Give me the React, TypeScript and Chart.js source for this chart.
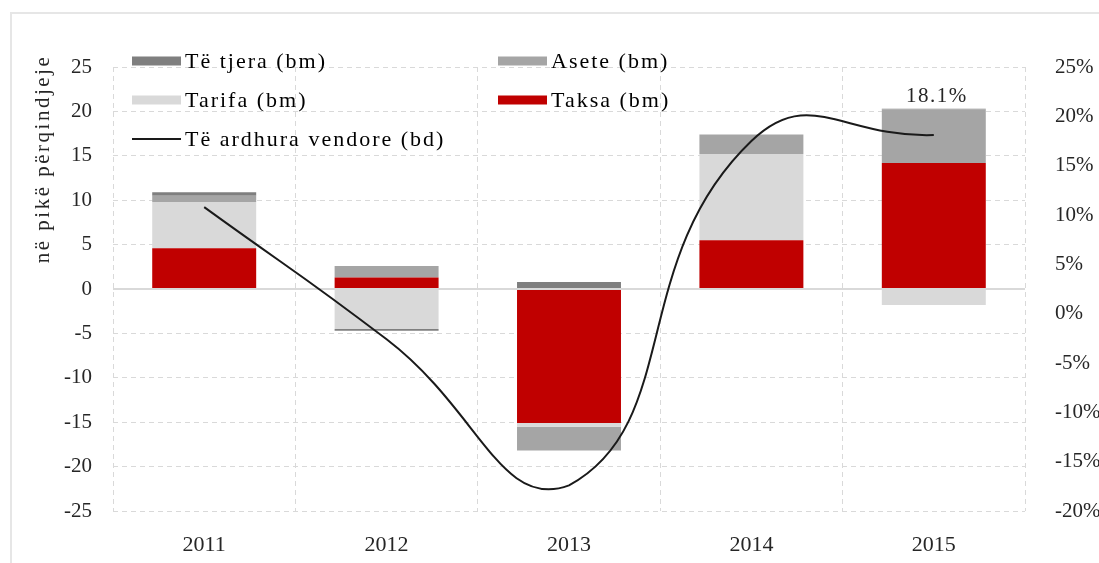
import React, { useEffect, useRef } from 'react';
import { Chart, registerables } from 'chart.js';

Chart.register(...registerables);

const categories = ['2011', '2012', '2013', '2014', '2015'];
const taksa = [4.6, 1.3, -15.1, 5.5, 14.2];
const tarifa = [5.2, -4.5, -0.4, 9.7, -1.8];
const asete = [0.7, 1.3, -2.7, 2.2, 6.0];
const teTjera = [0.4, -0.2, 0.8, 0, 0.1];
const teArdhura = [10.8, -2.6, -17.4, 17.5, 18.1];

const seriesLabels = ['Taksa (bm)', 'Tarifa (bm)', 'Asete (bm)', 'Të tjera (bm)', 'Të ardhura vendore (bd)'];
const seriesColors = ['#c00000', '#d9d9d9', '#a5a5a5', '#7f7f7f', '#1a1a1a'];
const yTitle = 'në pikë përqindjeje';
const annotatedIndex = 4;

const FONT = "'Liberation Serif', 'Times New Roman', serif";
const TEXT = '#262626';

const overlayPlugin = {
  id: 'overlay',
  beforeDatasetDraw(chart: any, args: any) {
    if (args.index !== 4) return;
    const ctx = chart.ctx;
    const y = chart.scales.y.getPixelForValue(0);
    ctx.save();
    ctx.strokeStyle = '#d9d9d9';
    ctx.lineWidth = 2;
    ctx.beginPath();
    ctx.moveTo(chart.chartArea.left, y);
    ctx.lineTo(chart.chartArea.right, y);
    ctx.stroke();
    ctx.restore();
  },
  afterDraw(chart: any) {
    const ctx = chart.ctx;
    ctx.save();
    ctx.letterSpacing = '2px';
    ctx.font = `22px ${FONT}`;
    ctx.fillStyle = '#000';
    ctx.textBaseline = 'middle';
    ctx.textAlign = 'left';
    const items = [
      { ds: 3, x: 132, y: 61 },
      { ds: 2, x: 498, y: 61 },
      { ds: 1, x: 132, y: 100 },
      { ds: 0, x: 498, y: 100 },
      { ds: 4, x: 132, y: 139 },
    ];
    items.forEach((it) => {
      const color = seriesColors[it.ds];
      if (it.ds === 4) {
        ctx.strokeStyle = color;
        ctx.lineWidth = 2;
        ctx.beginPath();
        ctx.moveTo(it.x, it.y);
        ctx.lineTo(it.x + 49, it.y);
        ctx.stroke();
      } else {
        ctx.fillStyle = color;
        ctx.fillRect(it.x, it.y - 4.5, 49, 9);
      }
      ctx.fillStyle = '#000';
      ctx.fillText(seriesLabels[it.ds], it.x + 53, it.y + 1);
    });
    // y axis title
    ctx.save();
    ctx.letterSpacing = '2.5px';
    ctx.font = `21px ${FONT}`;
    ctx.translate(43, 159);
    ctx.rotate(-Math.PI / 2);
    ctx.textAlign = 'center';
    ctx.fillStyle = TEXT;
    ctx.fillText(yTitle, 0, 0);
    ctx.restore();
    // annotation over 2015
    const i = annotatedIndex;
    const top = [taksa[i], tarifa[i], asete[i], teTjera[i]].filter((v) => v > 0).reduce((a, b) => a + b, 0);
    const x = chart.scales.x.getPixelForValue(i);
    const yTop = chart.scales.y.getPixelForValue(top);
    ctx.letterSpacing = '1.5px';
    ctx.font = `21px ${FONT}`;
    ctx.textAlign = 'center';
    ctx.fillStyle = TEXT;
    ctx.fillText(`${teArdhura[i]}%`, x + 3, yTop - 12);
    ctx.restore();
  },
};

export default function App() {
  const canvasRef = useRef<HTMLCanvasElement | null>(null);

  useEffect(() => {
    if (!canvasRef.current) return;
    const barCommon = {
      borderWidth: 0,
      barPercentage: 0.57,
      categoryPercentage: 1,
      stack: 's',
      yAxisID: 'y',
    };
    const tickFont = { family: FONT, size: 21 };
    const chart = new Chart(canvasRef.current, {
      type: 'bar',
      data: {
        labels: categories,
        datasets: [
          { ...barCommon, label: seriesLabels[0], data: taksa, backgroundColor: seriesColors[0] },
          { ...barCommon, label: seriesLabels[1], data: tarifa, backgroundColor: seriesColors[1] },
          { ...barCommon, label: seriesLabels[2], data: asete, backgroundColor: seriesColors[2] },
          { ...barCommon, label: seriesLabels[3], data: teTjera, backgroundColor: seriesColors[3] },
          {
            type: 'line',
            label: seriesLabels[4],
            data: teArdhura,
            yAxisID: 'y1',
            borderColor: seriesColors[4],
            borderWidth: 2,
            pointRadius: 0,
            tension: 0.5,
            fill: false,
            order: -1,
          } as any,
        ],
      },
      options: {
        animation: false,
        responsive: true,
        maintainAspectRatio: false,
        layout: { padding: { top: 67, left: 0, right: 0, bottom: 0 } },
        plugins: { legend: { display: false }, tooltip: { enabled: false } },
        scales: {
          x: {
            stacked: true,
            grid: { offset: true, color: '#d9d9d9', drawTicks: false, lineWidth: 1 },
            border: { display: false, dash: [5, 4] },
            ticks: { padding: 21, font: { family: FONT, size: 22 }, color: TEXT },
            afterFit: (s: any) => { s.height = 52; },
          },
          y: {
            stacked: true,
            position: 'left',
            min: -25,
            max: 25,
            grid: { color: '#d9d9d9', drawTicks: false, lineWidth: 1 },
            border: { display: false, dash: [5, 4] },
            ticks: { stepSize: 5, padding: 21, font: tickFont, color: TEXT },
            afterFit: (s: any) => { s.width = 113; },
          },
          y1: {
            position: 'right',
            min: -20,
            max: 25,
            grid: { display: false },
            border: { display: false },
            ticks: { stepSize: 5, padding: 22, font: tickFont, color: TEXT, callback: (v: any) => `${v}%` },
            afterFit: (s: any) => { s.width = 74; },
          },
        },
      } as any,
      plugins: [overlayPlugin],
    });
    return () => chart.destroy();
  }, []);

  return (
    <div style={{ position: 'fixed', left: 0, top: 0, width: 1099, height: 563, background: '#fff', overflow: 'hidden' }}>
      <div
        style={{
          position: 'absolute',
          left: 10,
          top: 12,
          width: 1200,
          height: 700,
          border: '2px solid #e6e6e6',
          boxSizing: 'border-box',
        }}
      />
      <div style={{ position: 'absolute', left: 0, top: 0, width: 1099, height: 563 }}>
        <canvas ref={canvasRef} />
      </div>
    </div>
  );
}
